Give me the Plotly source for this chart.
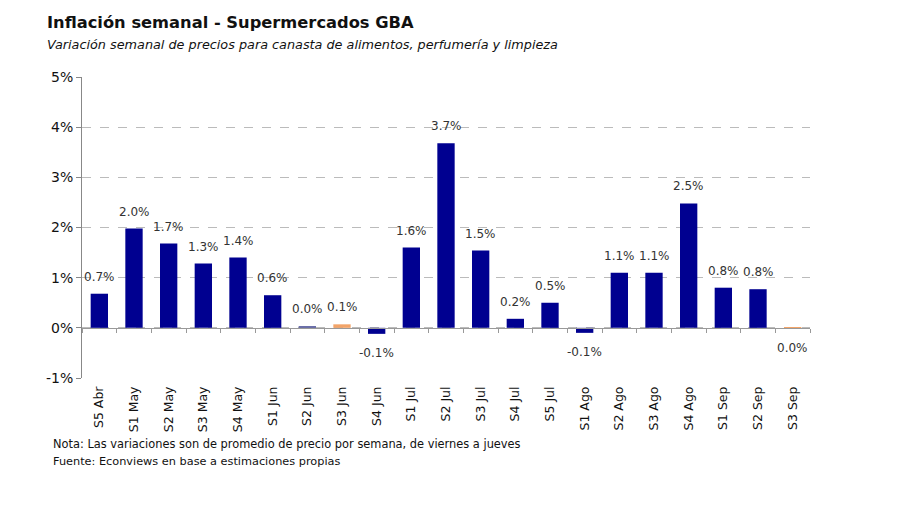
import plotly.graph_objects as go

categories = ["S5 Abr", "S1 May", "S2 May", "S3 May", "S4 May", "S1 Jun", "S2 Jun", "S3 Jun",
              "S4 Jun", "S1 Jul", "S2 Jul", "S3 Jul", "S4 Jul", "S5 Jul", "S1 Ago", "S2 Ago",
              "S3 Ago", "S4 Ago", "S1 Sep", "S2 Sep", "S3 Sep"]
values = [0.68, 1.98, 1.68, 1.28, 1.40, 0.65, 0.03, 0.07, -0.12, 1.60, 3.68, 1.54, 0.18,
          0.50, -0.10, 1.10, 1.10, 2.48, 0.80, 0.77, -0.02]
labels = ["0.7%", "2.0%", "1.7%", "1.3%", "1.4%", "0.6%", "0.0%", "0.1%", "-0.1%", "1.6%",
          "3.7%", "1.5%", "0.2%", "0.5%", "-0.1%", "1.1%", "1.1%", "2.5%", "0.8%", "0.8%", "0.0%"]
highlight = ["S3 Jun", "S3 Sep"]
ytick_vals = [-1, 0, 1, 2, 3, 4, 5]
ytick_text = ["-1%", "0%", "1%", "2%", "3%", "4%", "5%"]

BLUE = "#000090"
ORANGE = "#F2A469"
colors = [ORANGE if c in highlight else BLUE for c in categories]
colors[categories.index("S2 Jun")] = "#6B6FA8"

font = "Verdana, DejaVu Sans, sans-serif"

fig = go.Figure()
fig.add_trace(go.Bar(
    x=categories, y=values, marker=dict(color=colors, line=dict(width=0)),
    hoverinfo="x+y", showlegend=False,
))
# invisible trace on secondary x axis to draw category tick marks at the zero line
fig.add_trace(go.Bar(x=categories, y=[None]*len(categories), xaxis="x2", showlegend=False,
                     hoverinfo="skip"))

for c, v, t in zip(categories, values, labels):
    fig.add_annotation(x=c, y=v, text=t, showarrow=False,
                       yanchor="bottom" if v >= 0 else "top",
                       yshift=8 if v >= 0 else -10,
                       font=dict(family=font, size=12, color="#333333"))

L, R, T, B = 74, 98, 69, 135
n = len(categories)
fig.update_layout(
    width=900, height=505,
    paper_bgcolor="white", plot_bgcolor="white",
    margin=dict(l=L, r=R, t=T, b=B),
    bargap=0.5,
    font=dict(family=font, color="#222222"),
    yaxis=dict(range=[-1, 5], tickvals=ytick_vals, ticktext=ytick_text,
               showgrid=True, gridcolor="#BBBBBB", griddash="dash", gridwidth=1,
               zeroline=False, showline=True, linecolor="#888888", linewidth=1,
               ticks="outside", ticklen=5, tickcolor="#888888",
               tickfont=dict(family=font, size=14, color="#111111")),
    xaxis=dict(type="category", range=[-0.5, n - 0.5], showline=False, showgrid=False, ticks="",
               tickangle=-90, tickfont=dict(family=font, size=12.5, color="#111111"),
               ticklabelstandoff=5),
    xaxis2=dict(type="category", overlaying="x", anchor="free", position=1/6,
                range=[-0.5, n - 0.5],
                showline=True, linecolor="#999999", linewidth=1,
                ticks="outside", tickson="boundaries", ticklen=4, tickcolor="#999999",
                showticklabels=False, showgrid=False),
)

W = 900 - L - R
H = 505 - T - B
def px(x, y):
    return ((x - 8 - L) / W, (505 - B - (y - 8)) / H)

for txt, x, y, size in [
    ("<b>Inflación semanal - Supermercados GBA</b>", 45, 22, 16.3),
    ("<i>Variación semanal de precios para canasta de alimentos, perfumería y limpieza</i>", 45, 45, 12.8),
    ("Nota: Las variaciones son de promedio de precio por semana, de viernes a jueves", 51, 444, 11.4),
    ("Fuente: Econviews en base a estimaciones propias", 51, 461, 11.3),
]:
    fx, fy = px(x, y)
    fig.add_annotation(text=txt, xref="paper", yref="paper", x=fx, y=fy,
                       xanchor="left", yanchor="middle", showarrow=False,
                       font=dict(family=font, size=size, color="#111111"))

fig.write_html("out.html")
